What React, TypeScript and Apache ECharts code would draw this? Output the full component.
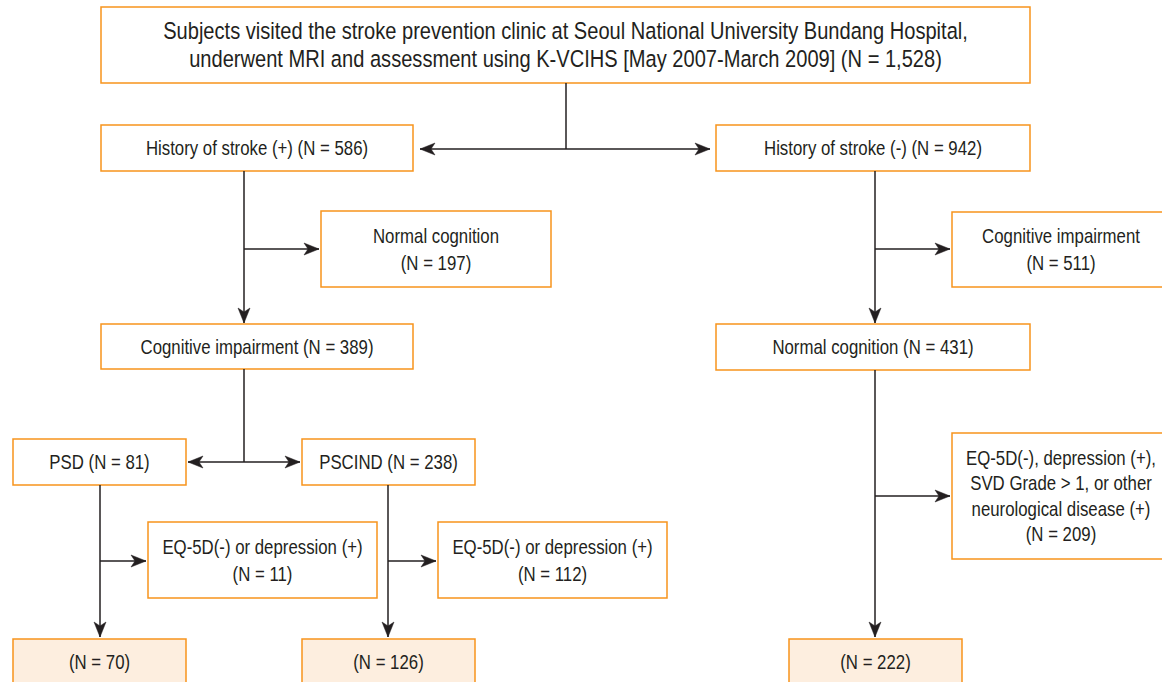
import React, { useEffect, useRef } from "react";
import * as echarts from "echarts";

// ---- data ----
const introLines = [
  "Subjects visited the stroke prevention clinic at Seoul National University Bundang Hospital,",
  "underwent MRI and assessment using K-VCIHS [May 2007-March 2009]",
];
const introCount = 1528;

const stageNames = [
  "History of stroke (+)",
  "History of stroke (-)",
  "Normal cognition",
  "Cognitive impairment",
  "Cognitive impairment",
  "Normal cognition",
  "PSD",
  "PSCIND",
  "EQ-5D(-) or depression (+)",
  "EQ-5D(-) or depression (+)",
  "EQ-5D(-), depression (+),\nSVD Grade > 1, or other\nneurological disease (+)",
  "",
  "",
  "",
];
const stageCounts = [586, 942, 197, 389, 511, 431, 81, 238, 11, 112, 209, 70, 126, 222];
// name and count on one line (true) or on separate lines (false)
const inlineCount = [true, true, false, true, false, true, true, true, false, false, false, true, true, true];

// ---- layout (pixels) ----
const FONT = '"Liberation Sans", Arial, sans-serif';
const SQUEEZE = 0.82;
const ORANGE = "#F7941D";
const PEACH = "#FDEEDF";
const INK = "#231F20";

type Box = { x: number; y: number; w: number; h: number; final?: boolean; cx?: number };
const introBox: Box = { x: 101, y: 7, w: 929, h: 76 };
const stageBoxes: Box[] = [
  { x: 101, y: 125, w: 312, h: 46 },
  { x: 716, y: 125, w: 314, h: 46 },
  { x: 321, y: 211, w: 230, h: 76 },
  { x: 101, y: 324, w: 312, h: 45 },
  { x: 952, y: 212, w: 218, h: 75 },
  { x: 716, y: 324, w: 314, h: 46 },
  { x: 13, y: 439, w: 173, h: 46 },
  { x: 302, y: 439, w: 173, h: 46 },
  { x: 148, y: 522, w: 229, h: 76 },
  { x: 438, y: 522, w: 229, h: 76 },
  { x: 952, y: 433, w: 218, h: 126 },
  { x: 13, y: 639, w: 173, h: 60, final: true },
  { x: 302, y: 639, w: 173, h: 60, final: true },
  { x: 789, y: 639, w: 173, h: 60, final: true },
];

// connectors: polyline points; arrow heads at given tips
type Seg = { pts: number[][]; heads: { x: number; y: number; d: "l" | "r" | "d" }[] };
const segs: Seg[] = [
  { pts: [[566, 83], [566, 149]], heads: [] },
  { pts: [[420, 149], [710, 149]], heads: [{ x: 420, y: 149, d: "l" }, { x: 710, y: 149, d: "r" }] },
  { pts: [[244, 171], [244, 323]], heads: [{ x: 244, y: 323, d: "d" }] },
  { pts: [[244, 249], [319, 249]], heads: [{ x: 319, y: 249, d: "r" }] },
  { pts: [[244, 369], [244, 462]], heads: [] },
  { pts: [[188, 462], [300, 462]], heads: [{ x: 188, y: 462, d: "l" }, { x: 300, y: 462, d: "r" }] },
  { pts: [[100, 485], [100, 637]], heads: [{ x: 100, y: 637, d: "d" }] },
  { pts: [[100, 561], [146, 561]], heads: [{ x: 146, y: 561, d: "r" }] },
  { pts: [[388, 485], [388, 637]], heads: [{ x: 388, y: 637, d: "d" }] },
  { pts: [[388, 561], [436, 561]], heads: [{ x: 436, y: 561, d: "r" }] },
  { pts: [[875, 171], [875, 323]], heads: [{ x: 875, y: 323, d: "d" }] },
  { pts: [[875, 249], [950, 249]], heads: [{ x: 950, y: 249, d: "r" }] },
  { pts: [[875, 370], [875, 637]], heads: [{ x: 875, y: 637, d: "d" }] },
  { pts: [[875, 496], [950, 496]], heads: [{ x: 950, y: 496, d: "r" }] },
];

const fmtN = (n: number) => `(N = ${n.toLocaleString("en-US")})`;

function arrowHead(x: number, y: number, d: "l" | "r" | "d") {
  const L = 15, W = 6, N = 4;
  let pts: number[][];
  if (d === "r") pts = [[x, y], [x - L, y - W], [x - L + N, y], [x - L, y + W]];
  else if (d === "l") pts = [[x, y], [x + L, y - W], [x + L - N, y], [x + L, y + W]];
  else pts = [[x, y], [x - W, y - L], [x, y - L + N], [x + W, y - L]];
  return { type: "polygon", shape: { points: pts }, style: { fill: INK, stroke: INK, lineWidth: 0.5 }, z: 10 };
}

function textFor(i: number) {
  const name = stageNames[i];
  const n = fmtN(stageCounts[i]);
  if (!name) return n;
  return inlineCount[i] ? `${name} ${n}` : `${name}\n${n}`;
}

export default function App() {
  const ref = useRef<HTMLDivElement>(null);
  useEffect(() => {
    if (!ref.current) return;
    const chart = echarts.init(ref.current, undefined, { renderer: "svg" });
    const elements: any[] = [];
    const addBox = (b: Box, text: string, fontSize: number, lineHeight: number) => {
      elements.push({
        type: "rect",
        shape: { x: b.x, y: b.y, width: b.w, height: b.h },
        style: { fill: b.final ? PEACH : "#ffffff", stroke: ORANGE, lineWidth: 1.5 },
        z: 5,
      });
      elements.push({
        type: "text",
        x: b.cx ?? b.x + b.w / 2,
        y: b.y + b.h / 2 + (b.final ? -7 : 0),
        scaleX: SQUEEZE,
        style: {
          text,
          fill: INK,
          font: `${fontSize}px ${FONT}`,
          align: "center",
          verticalAlign: "middle",
          lineHeight,
        },
        z: 6,
      });
    };
    addBox(introBox, `${introLines[0]}\n${introLines[1]} ${fmtN(introCount)}`, 24.5, 28);
    stageBoxes.forEach((b, i) => {
      const lh = i === 10 ? 25.5 : 27;
      addBox(b, textFor(i), 20.5, lh);
    });
    segs.forEach((s) => {
      elements.push({
        type: "polyline",
        shape: { points: s.pts },
        style: { stroke: INK, lineWidth: 1.5, fill: "none" },
        z: 8,
      });
      s.heads.forEach((h) => elements.push(arrowHead(h.x, h.y, h.d)));
    });
    chart.setOption({
      animation: false,
      backgroundColor: "#ffffff",
      graphic: { elements },
    });
    return () => chart.dispose();
  }, []);
  return (
    <div
      ref={ref}
      style={{ position: "fixed", left: 0, top: 0, width: 1162, height: 682 }}
    />
  );
}
